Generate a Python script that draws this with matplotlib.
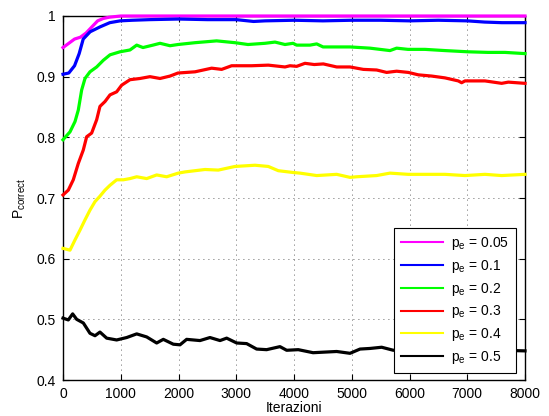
import matplotlib
matplotlib.use("Agg")
import matplotlib.pyplot as plt

plt.rcParams['font.family'] = ['Liberation Sans', 'DejaVu Sans']
plt.rcParams['mathtext.fontset'] = 'custom'
plt.rcParams['mathtext.rm'] = 'Liberation Sans'
plt.rcParams['mathtext.it'] = 'Liberation Sans'

# ---- data ----
x_005 = [0, 100, 200, 300, 400, 500, 600, 700, 800, 900, 1000, 8000]
y_005 = [0.948, 0.955, 0.962, 0.965, 0.972, 0.982, 0.992, 0.996, 0.998, 0.999, 1.0, 1.0]

x_01 = [0, 100, 200, 280, 350, 470, 640, 810, 990, 1200, 1500, 2000, 2500, 3000, 3300,
        3500, 4000, 4500, 5000, 5500, 6000, 6500, 7000, 7300, 7600, 8000]
y_01 = [0.904, 0.906, 0.918, 0.938, 0.962, 0.974, 0.982, 0.989, 0.992, 0.993, 0.994, 0.995,
        0.994, 0.994, 0.991, 0.992, 0.993, 0.992, 0.993, 0.993, 0.992, 0.993, 0.992, 0.990,
        0.989, 0.989]

x_02 = [0, 121, 208, 265, 323, 381, 467, 583, 698, 814, 987, 1160, 1276, 1385, 1558, 1680,
        1853, 1991, 2286, 2660, 2978, 3203, 3498, 3671, 3844, 3983, 4046, 4277, 4393, 4503,
        4797, 4970, 5316, 5662, 5777, 5974, 6268, 6614, 7013, 7359, 7654, 8000]
y_02 = [0.796, 0.809, 0.826, 0.845, 0.878, 0.897, 0.908, 0.916, 0.927, 0.936, 0.941, 0.944,
        0.952, 0.948, 0.952, 0.955, 0.951, 0.953, 0.956, 0.959, 0.956, 0.953, 0.955, 0.957,
        0.953, 0.955, 0.952, 0.952, 0.954, 0.949, 0.949, 0.949, 0.947, 0.943, 0.947, 0.945,
        0.945, 0.943, 0.941, 0.940, 0.940, 0.938]

x_03 = [0, 92, 178, 265, 351, 410, 496, 583, 640, 727, 814, 929, 1016, 1160, 1333, 1506,
        1680, 1853, 1991, 2286, 2574, 2747, 2920, 3266, 3555, 3844, 3931, 4046, 4190, 4350,
        4508, 4739, 4970, 5200, 5431, 5604, 5777, 5979, 6153, 6384, 6614, 6845, 6903, 6961,
        7307, 7596, 7711, 8000]
y_03 = [0.705, 0.713, 0.730, 0.757, 0.779, 0.801, 0.807, 0.829, 0.851, 0.859, 0.870, 0.875,
        0.886, 0.895, 0.897, 0.900, 0.897, 0.901, 0.906, 0.908, 0.914, 0.912, 0.918, 0.918,
        0.919, 0.916, 0.918, 0.917, 0.922, 0.920, 0.921, 0.916, 0.916, 0.912, 0.911, 0.907,
        0.909, 0.907, 0.903, 0.901, 0.898, 0.893, 0.890, 0.893, 0.893, 0.889, 0.891, 0.889]

x_04 = [0, 121, 208, 294, 381, 467, 554, 640, 727, 814, 929, 1044, 1160, 1276, 1449, 1622,
        1795, 1996, 2113, 2459, 2689, 2978, 3325, 3555, 3728, 3988, 4104, 4393, 4739, 4970,
        5085, 5431, 5662, 5979, 6268, 6614, 6961, 7307, 7596, 8000]
y_04 = [0.617, 0.614, 0.631, 0.647, 0.664, 0.680, 0.694, 0.703, 0.713, 0.721, 0.730, 0.730,
        0.732, 0.735, 0.732, 0.738, 0.735, 0.741, 0.743, 0.747, 0.746, 0.752, 0.754, 0.752,
        0.745, 0.742, 0.741, 0.737, 0.739, 0.734, 0.735, 0.737, 0.741, 0.739, 0.739, 0.739,
        0.737, 0.739, 0.737, 0.739]

x_05 = [0, 92, 167, 237, 352, 467, 554, 640, 756, 929, 1103, 1276, 1449, 1622, 1737, 1910,
        2026, 2141, 2372, 2545, 2719, 2834, 3007, 3180, 3353, 3526, 3757, 3873, 4074, 4330,
        4739, 4970, 5143, 5316, 5518, 5720, 6000, 6400, 6800, 7200, 7600, 8000]
y_05 = [0.502, 0.499, 0.509, 0.500, 0.494, 0.477, 0.473, 0.479, 0.469, 0.466, 0.470, 0.476,
        0.471, 0.461, 0.467, 0.459, 0.458, 0.467, 0.465, 0.470, 0.465, 0.469, 0.461, 0.460,
        0.451, 0.450, 0.455, 0.449, 0.450, 0.445, 0.447, 0.444, 0.451, 0.452, 0.454, 0.449,
        0.452, 0.451, 0.453, 0.450, 0.449, 0.448]

labels = ["0.05", "0.1", "0.2", "0.3", "0.4", "0.5"]
colors = ["#FF00FF", "#0000FF", "#00FF00", "#FF0000", "#FFFF00", "#000000"]
series = [(x_005, y_005), (x_01, y_01), (x_02, y_02), (x_03, y_03), (x_04, y_04), (x_05, y_05)]

x_ticks = [0, 1000, 2000, 3000, 4000, 5000, 6000, 7000, 8000]
y_ticks = [0.4, 0.5, 0.6, 0.7, 0.8, 0.9, 1.0]
y_ticklabels = ["0.4", "0.5", "0.6", "0.7", "0.8", "0.9", "1"]

fig = plt.figure(figsize=(5.49, 4.16), dpi=100)
ax = fig.add_axes([63 / 549, 1 - 380 / 416, 462 / 549, 364 / 416])

for (xs, ys), lab, c in zip(series, labels, colors):
    ax.plot(xs, ys, color=c, lw=2.3, label=r"p$_{\mathrm{e}}$ = " + lab,
            clip_on=False, zorder=3, solid_joinstyle='round')

ax.set_xlim(0, 8000)
ax.set_ylim(0.4, 1.0)
ax.set_xticks(x_ticks)
ax.set_xticklabels([str(v) for v in x_ticks])
ax.set_yticks(y_ticks)
ax.set_yticklabels(y_ticklabels)
ax.tick_params(direction='in', length=4, width=0.8, labelsize=10, top=True, right=True,
               pad=5, colors='black')
ax.grid(True, linestyle=(0, (1, 5)), color='black', linewidth=0.6, alpha=0.8)
for s in ax.spines.values():
    s.set_linewidth(1.0)
    s.set_zorder(2)

ax.set_xlabel("Iterazioni", fontsize=10, labelpad=0)
ax.set_ylabel(r"P$_{\mathrm{correct}}$", fontsize=10, labelpad=6)

leg = ax.legend(loc='lower right', bbox_to_anchor=(0.98, 0.019), borderaxespad=0,
                fontsize=10, fancybox=False, edgecolor='black', framealpha=1,
                handlelength=3.0, labelspacing=0.42, borderpad=0.5, handletextpad=0.6)
leg.get_frame().set_linewidth(0.8)
for line in leg.get_lines():
    line.set_linewidth(1.5)

fig.savefig("out.png", dpi=100)
